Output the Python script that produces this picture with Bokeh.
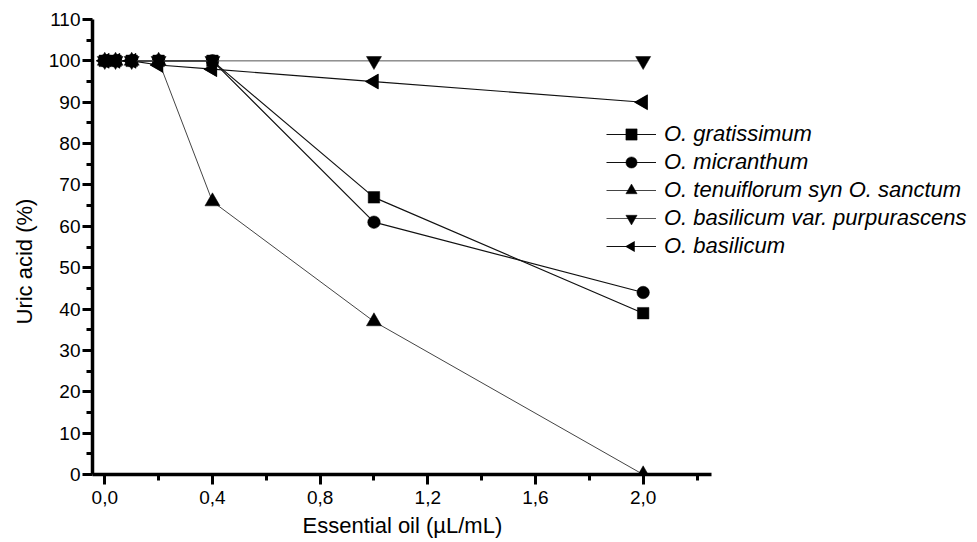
import math
from bokeh.plotting import figure
from bokeh.models import (Range1d, FixedTicker, CustomJSTickFormatter, Legend, LegendItem,
                          CustomJS, Title)
from bokeh.embed import file_html
from bokeh.resources import INLINE

# ---- data ----
conc = [0.0, 0.04, 0.1, 0.2, 0.4, 1.0, 2.0]
gratissimum = [100, 100, 100, 100, 100, 67, 39]
micranthum = [100, 100, 100, 100, 100, 61, 44]
tenuiflorum = [100, 100, 100, 100, 66, 37, 0]
purpurascens = [100, 100, 100, 100, 100, 100, 100]
basilicum = [100, 100, 100, 99, 98, 95, 90]

series_names = ["O. gratissimum", "O. micranthum", "O. tenuiflorum syn O. sanctum",
                "O. basilicum var. purpurascens", "O. basilicum"]

x_major = [0.0, 0.4, 0.8, 1.2, 1.6, 2.0]
x_minor = [0.2, 0.6, 1.0, 1.4, 1.8, 2.2]
y_major = [0, 10, 20, 30, 40, 50, 60, 70, 80, 90, 100, 110]
y_minor = [5, 15, 25, 35, 45, 55, 65, 75, 85, 95, 105]

x_title = "Essential oil (µL/mL)"
y_title = "Uric acid (%)"

X_AXIS_START, X_AXIS_END = -0.047, 2.255

FONT = "Liberation Sans"

p = figure(width=977, height=542, output_backend="svg", toolbar_location=None,
           x_range=Range1d(-0.0456, 3.242), y_range=Range1d(0, 110),
           min_border_left=91, min_border_right=0, min_border_top=19, min_border_bottom=68)
p.outline_line_color = None
p.grid.visible = False
p.background_fill_color = "white"
p.border_fill_color = "white"

for ax in (p.xaxis[0], p.yaxis[0]):
    ax.axis_line_width = 3.5
    ax.axis_line_color = "black"
    ax.major_tick_line_width = 3
    ax.minor_tick_line_width = 3
    ax.major_tick_line_color = "black"
    ax.minor_tick_line_color = "black"
    ax.major_tick_in = 0
    ax.minor_tick_in = 0
    ax.major_tick_out = 10
    ax.minor_tick_out = 6
    ax.major_label_text_font = FONT
    ax.major_label_text_font_size = "19px"
    ax.major_label_text_color = "black"

p.xaxis.bounds = (X_AXIS_START, X_AXIS_END)
p.xaxis.ticker = FixedTicker(ticks=x_major, minor_ticks=x_minor)
p.yaxis.ticker = FixedTicker(ticks=y_major, minor_ticks=y_minor)
p.xaxis.formatter = CustomJSTickFormatter(code="return tick.toFixed(1).replace('.', ',');")
p.xaxis.major_label_standoff = 6
p.yaxis.major_label_standoff = 2

# axis titles as Titles so they can be positioned along the (shorter) axes
xt = Title(text=x_title, align="left", offset=210, standoff=8,
           text_font=FONT, text_font_size="22px", text_font_style="normal", text_color="black")
p.add_layout(xt, "below")
yt = Title(text=y_title, align="left", offset=150, standoff=18,
           text_font=FONT, text_font_size="22px", text_font_style="normal", text_color="black")
p.add_layout(yt, "left")

data = [gratissimum, micranthum, tenuiflorum, purpurascens, basilicum]
markers = ["square", "circle", "triangle", "inverted_triangle", "triangle"]
sizes = [11.5, 12.5, 15, 15, 15]
angles = [0, 0, 0, 0, math.pi / 2]
lcolors = ["#111111", "#111111", "#444444", "#555555", "#111111"]
lwidths = [1.2, 1.2, 1.0, 1.0, 1.2]

left_tri_js = CustomJS(code="""
export default (args, obj, data) => {
  const ctx = data.ctx
  const r = data.r
  const h = r*Math.sqrt(3)
  const a = h/3
  ctx.beginPath()
  ctx.moveTo(a, -r)
  ctx.lineTo(a, r)
  ctx.lineTo(a - h, 0)
  ctx.closePath()
  ctx.fillStyle = "black"
  ctx.fill()
}
""")

items = []
for ys, name, mk, sz, ang, lc, lw in zip(data, series_names, markers, sizes, angles, lcolors, lwidths):
    lr = p.line(conc, ys, line_color=lc, line_width=lw)
    sr = p.scatter(conc, ys, marker=mk, size=sz, angle=ang,
                   fill_color="black", line_color="black", line_width=0.5)
    rends = [lr, sr]
    if ang != 0:
        try:
            cr = p.scatter(conc, ys, marker="@lefttri", size=sz,
                           defs={"@lefttri": left_tri_js},
                           fill_color="black", line_color="black", line_width=0.5)
            rends = [lr, cr]
        except Exception:
            pass
    items.append(LegendItem(label=name, renderers=rends))

legend = Legend(items=items, location=(514, 214), orientation="vertical",
                glyph_width=50, glyph_height=28, label_height=28, spacing=0,
                label_standoff=8, padding=0, margin=0,
                border_line_alpha=0, background_fill_alpha=0,
                label_text_font=FONT, label_text_font_size="22px",
                label_text_font_style="italic", label_text_color="black")
p.add_layout(legend)

open("out.html", "w").write(file_html(p, INLINE))
